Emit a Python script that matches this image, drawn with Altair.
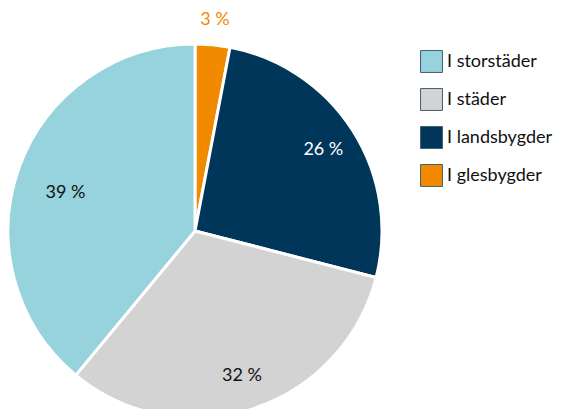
import altair as alt
import pandas as pd

categories = ["I glesbygder", "I landsbygder", "I städer", "I storstäder"]
values = [3, 26, 32, 39]
labels = ["3 %", "26  %", "32 %", "39 %"]
legend_order = ["I storstäder", "I städer", "I landsbygder", "I glesbygder"]
colors = {"I storstäder": "#96D3DC", "I städer": "#D3D3D3", "I landsbygder": "#00365A", "I glesbygder": "#F28A00"}

df = pd.DataFrame({"cat": categories, "val": values, "label": labels, "ord": list(range(len(categories)))})

FONT = "Lato"
CX, CY, R = 187, 223, 187

base = alt.Chart(df).encode(
    theta=alt.Theta("val:Q", stack=True, scale=alt.Scale(range=[0, 6.283185307])),
    order=alt.Order("ord:Q"),
    x=alt.value(CX),
    y=alt.value(CY),
)

arcs = base.mark_arc(outerRadius=R, stroke="white", strokeWidth=3).encode(
    color=alt.Color(
        "cat:N",
        scale=alt.Scale(domain=legend_order, range=[colors[c] for c in legend_order]),
        sort=legend_order,
        legend=alt.Legend(
            title=None,
            orient="none",
            legendX=412,
            legendY=42,
            symbolType="square",
            symbolSize=480,
            symbolStrokeColor="#3d5f70",
            symbolStrokeWidth=1,
            symbolOpacity=1,
            labelFont=FONT,
            labelFontSize=18,
            labelColor="#111111",
            rowPadding=11,
            labelOffset=4,
        ),
    )
)

inner = base.transform_calculate(
    t="datum.cat == 'I glesbygder' || datum.cat == 'I storstäder' ? '' : datum.label"
).mark_text(radius=152, font=FONT, fontSize=18).encode(
    text="t:N",
    color=alt.condition("datum.cat == 'I landsbygder'", alt.value("white"), alt.value("#111111")),
)

big = base.transform_calculate(
    t="datum.cat == 'I storstäder' ? datum.label : ''"
).mark_text(radius=142, dy=10, dx=4, font=FONT, fontSize=18, color="#111111").encode(text="t:N")

outer = base.transform_calculate(
    t="datum.cat == 'I glesbygder' ? datum.label : ''"
).mark_text(radius=212, font=FONT, fontSize=18, color="#F28A00").encode(text="t:N")

chart = alt.layer(arcs, inner, big, outer).properties(
    width=557, height=401, padding=0, autosize=alt.AutoSizeParams(type="none")
).configure_view(stroke=None)

chart.save("out.html", embed_options={"renderer": "svg", "actions": False})
